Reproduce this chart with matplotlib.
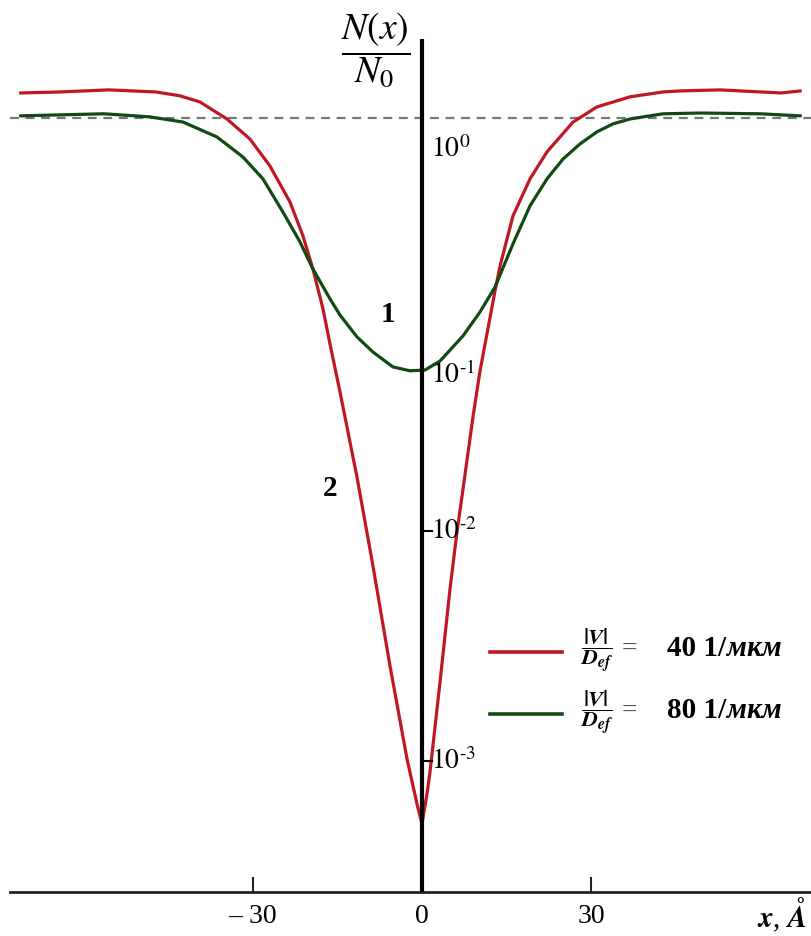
import numpy as np
import matplotlib
matplotlib.use("Agg")
import matplotlib.pyplot as plt
from matplotlib.lines import Line2D

plt.rcParams['font.family'] = ['Liberation Serif', 'DejaVu Serif']
plt.rcParams['mathtext.fontset'] = 'stix'

# x in Angstrom, y = log10(N/N0) position as drawn on the original figure
x_red = [-71.19, -64.26, -55.57, -47.22, -42.96, -39.41, -34.62, -30.53, -26.98, -23.43,
         -21.12, -19.35, -17.57, -16.33, -14.55, -11.54, -8.70, -5.68, -2.66, -0.89, 0.0,
         0.89, 1.42, 3.20, 4.97, 6.21, 7.28, 9.05, 10.30, 12.96, 13.85, 16.15, 19.17,
         22.19, 26.81, 31.07, 36.93, 42.78, 45.80, 52.90, 63.73, 67.10]
y_red = [0.097, 0.101, 0.109, 0.101, 0.086, 0.062, -0.004, -0.082, -0.187, -0.327,
         -0.459, -0.588, -0.743, -0.879, -1.066, -1.397, -1.743, -2.132, -2.494, -2.669,
         -2.747, -2.630, -2.545, -2.195, -1.833, -1.611, -1.444, -1.163, -0.984, -0.673,
         -0.576, -0.381, -0.237, -0.132, -0.016, 0.043, 0.082, 0.101, 0.105, 0.109, 0.097,
         0.105]

x_green = [-71.19, -56.45, -48.29, -42.43, -36.39, -31.78, -28.23, -24.68, -21.66, -19.35,
           -16.33, -14.55, -11.54, -8.70, -5.15, -2.13, 0.53, 3.20, 7.28, 10.30, 12.96,
           16.15, 19.17, 22.19, 25.03, 28.05, 31.07, 33.91, 36.93, 42.78, 49.35, 60.00, 67.10]
y_green = [0.008, 0.016, 0.004, -0.016, -0.074, -0.152, -0.237, -0.366, -0.482, -0.588,
           -0.704, -0.767, -0.852, -0.911, -0.969, -0.984, -0.981, -0.946, -0.848, -0.755,
           -0.658, -0.490, -0.342, -0.237, -0.160, -0.101, -0.054, -0.023, -0.004, 0.016,
           0.019, 0.016, 0.008]

xticks = [-30, 0, 30]
xtick_labels = ['\u2013 30', '0', '30']
ytick_pos = [-0.121, -0.996, -1.607, -2.502]
ytick_labels = [r'$10^{0}$', r'$10^{\text{-}1}$', r'$10^{\text{-}2}$', r'$10^{\text{-}3}$']

red = '#c01820'
green = '#134a14'

W, H = 812, 937
fig = plt.figure(figsize=(W / 100, H / 100), dpi=100)
ax = fig.add_axes([10 / W, 1 - 893 / H, 802 / W, 853 / H])
ax.set_xlim(-73.1, 69.2)
ax.set_ylim(-3.012, 0.307)

ax.axhline(0, color='#777777', lw=1.6, ls=(0, (4, 3)), zorder=1)
ax.plot(x_red, y_red, color=red, lw=2.3, zorder=3, solid_joinstyle='round')
ax.plot(x_green, y_green, color=green, lw=2.3, zorder=3, solid_joinstyle='round')
ax.axvline(0, color='black', lw=3, zorder=4)

for s in ['left', 'top', 'right']:
    ax.spines[s].set_visible(False)
ax.spines['bottom'].set_linewidth(2)
ax.spines['bottom'].set_color('#222222')
ax.set_yticks([])
ax.set_xticks(xticks)
ax.set_xticklabels(xtick_labels, fontsize=20)
ax.tick_params(axis='x', direction='in', length=11, width=1.5, pad=8, color='#222222')

for yp, lab in zip(ytick_pos, ytick_labels):
    ax.text(1.6, yp, lab, fontsize=20, ha='left', va='center', zorder=5)
for yp in ytick_pos[2:]:
    ax.plot([0, 1.8], [yp, yp], color='black', lw=1.5, zorder=4)

ax.text(-6.0, -0.76, '1', fontsize=21, fontweight='bold', ha='center', va='center')
ax.text(-16.3, -1.44, '2', fontsize=21, fontweight='bold', ha='center', va='center')

# y label
fig.text(376 / W, 1 - 50 / H, r'$\dfrac{N(x)}{N_0}$', fontsize=27, ha='center', va='center')
# x label
fig.text(757 / W, 1 - 915 / H, r'$\mathbfit{x}$, $\mathbfit{\AA}$', fontsize=21, ha='left', va='center')

# legend
for yy, col, val in [(653, red, '40'), (715, green, '80')]:
    fig.add_artist(Line2D([490 / W, 562 / W], [1 - yy / H, 1 - yy / H], color=col, lw=2.6))
    fig.text(597 / W, 1 - (yy - 2) / H, r'$\dfrac{\mathbf{|}\mathbfit{V}\mathbf{|}}{\mathbfit{D}_{\mathbfit{ef}}}$',
             fontsize=16, ha='center', va='center')
    fig.text(622 / W, 1 - (yy - 4) / H, '=', fontsize=20, ha='left', va='center', color='#555555')
    fig.text(667 / W, 1 - (yy - 4) / H, val + ' 1/', fontsize=21, fontweight='bold', ha='left', va='center')
    fig.text(727 / W, 1 - (yy - 4) / H, 'мкм', fontsize=21, fontweight='bold', style='italic',
             ha='left', va='center')

fig.savefig('out.png', dpi=100)
